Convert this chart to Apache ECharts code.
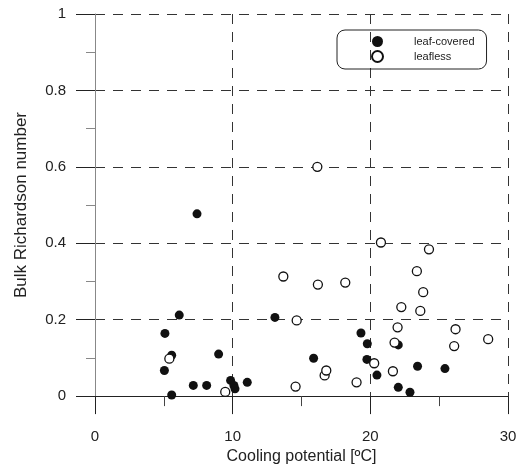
<!DOCTYPE html>
<html>
<head>
<meta charset="utf-8">
<script src="https://cdn.jsdelivr.net/npm/echarts@6/dist/echarts.min.js"></script>
<style>
  html, body { margin: 0; padding: 0; background: #fff; }
  #chart { width: 525px; height: 470px; }
</style>
</head>
<body>
<div id="chart"></div>
<script>
// values: [cooling potential, bulk Richardson number]
const leafCovered = [
    [5.04, 0.067], [5.08, 0.164], [5.57, 0.107], [5.57, 0.003], [6.12, 0.212],
    [7.14, 0.028], [7.41, 0.477], [8.11, 0.028], [8.98, 0.110], [9.85, 0.041],
    [10.09, 0.028], [10.17, 0.019], [11.06, 0.036], [13.07, 0.206], [15.88, 0.099],
    [19.32, 0.165], [19.78, 0.137], [19.75, 0.096], [20.48, 0.055], [22.03, 0.134],
    [22.03, 0.023], [22.88, 0.010], [23.43, 0.078], [25.42, 0.072]
];
const leafless = [
    [5.40, 0.098], [9.46, 0.011], [13.68, 0.313], [14.57, 0.025], [14.65, 0.198],
    [16.15, 0.600], [16.19, 0.292], [16.68, 0.054], [16.80, 0.067], [18.18, 0.297],
    [19.00, 0.036], [20.28, 0.086], [20.77, 0.402], [21.64, 0.065], [21.76, 0.140],
    [21.98, 0.180], [22.25, 0.233], [23.38, 0.327], [23.63, 0.223], [23.84, 0.272],
    [24.26, 0.384], [26.09, 0.131], [26.19, 0.175], [28.56, 0.149]
];
const seriesNames = ['leaf-covered', 'leafless'];
const xRange = [0, 30, 10];   // min, max, interval
const yRange = [0, 1, 0.2];

const font = 'Liberation Sans, Arial, sans-serif';
const dash = { color: '#333', width: 1, type: [10, 8] };

const chart = echarts.init(document.getElementById('chart'), null, { renderer: 'canvas' });

chart.setOption({
    backgroundColor: '#fff',
    animation: false,
    grid: { left: 95, right: 17, top: 14, bottom: 70 },
    legend: {
        orient: 'vertical',
        left: 337, top: 30,
        data: seriesNames,
        icon: 'circle',
        itemWidth: 11, itemHeight: 11, itemGap: 3,
        padding: [6, 12, 6, 34],
        borderColor: '#222', borderWidth: 1, borderRadius: 8,
        textStyle: { fontFamily: font, fontSize: 11, color: '#222', padding: [0, 0, 0, 26] }
    },
    xAxis: {
        type: 'value',
        min: xRange[0], max: xRange[1], interval: xRange[2],
        name: 'Cooling potential [ºC]',
        nameLocation: 'middle', nameGap: 52,
        nameTextStyle: { fontFamily: font, fontSize: 16, color: '#222' },
        axisLine: { show: true, lineStyle: { color: '#222', width: 1 } },
        axisTick: { show: true, inside: false, length: 18, lineStyle: { color: '#222' } },
        minorTick: { show: true, splitNumber: 2, length: 10, lineStyle: { color: '#444' } },
        axisLabel: { fontFamily: font, fontSize: 15, color: '#222', margin: 33 },
        splitLine: { show: true, showMinLine: false, lineStyle: dash }
    },
    yAxis: {
        type: 'value',
        min: yRange[0], max: yRange[1], interval: yRange[2],
        name: 'Bulk Richardson number',
        nameLocation: 'middle', nameGap: 65,
        nameTextStyle: { fontFamily: font, fontSize: 17, color: '#222' },
        axisLine: { show: true, lineStyle: { color: '#888', width: 1 } },
        axisTick: { show: true, inside: false, length: 19, lineStyle: { color: '#222' } },
        minorTick: { show: true, splitNumber: 2, length: 9, lineStyle: { color: '#888' } },
        axisLabel: { fontFamily: font, fontSize: 15, color: '#222', margin: 29 },
        splitLine: { show: true, showMinLine: false, lineStyle: dash }
    },
    series: [
        {
            name: seriesNames[0],
            type: 'scatter',
            data: leafCovered,
            symbol: 'circle', symbolSize: 9,
            itemStyle: { color: '#111', opacity: 1 },
            z: 3
        },
        {
            name: seriesNames[1],
            type: 'scatter',
            data: leafless,
            symbol: 'circle', symbolSize: 9,
            itemStyle: { color: '#fff', borderColor: '#111', borderWidth: 1.3, opacity: 1 },
            z: 4
        }
    ]
});
</script>
</body>
</html>
